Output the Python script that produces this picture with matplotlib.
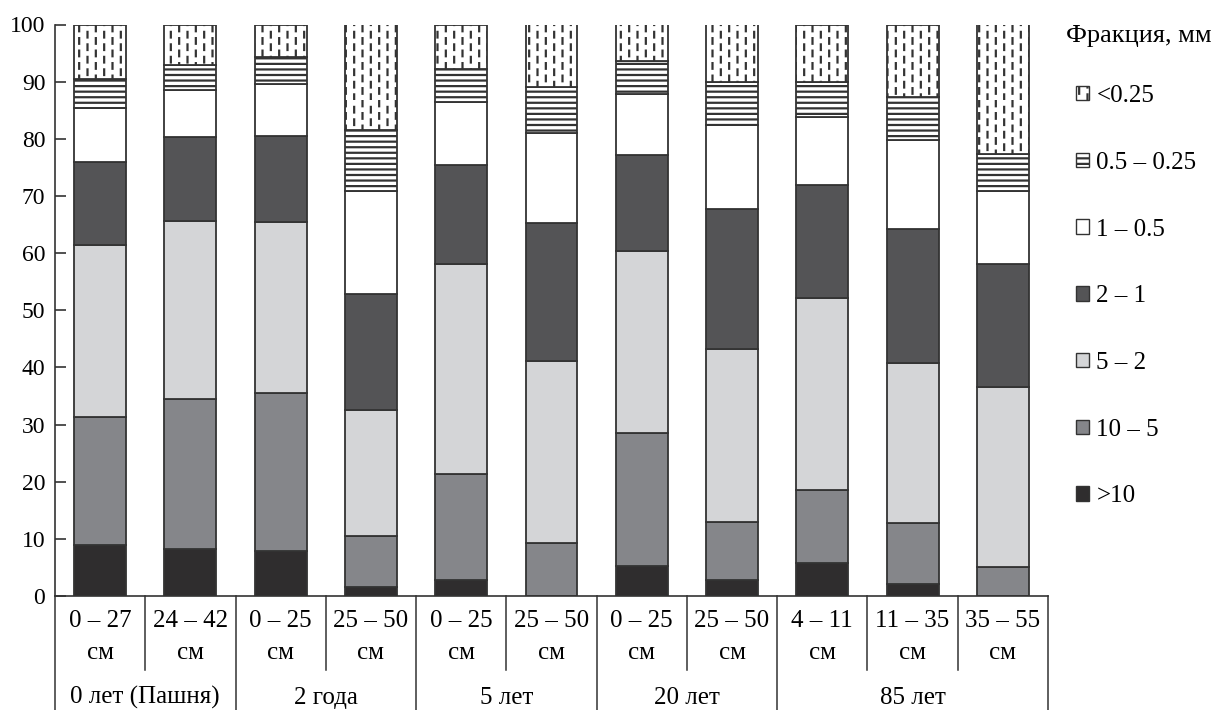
import numpy as np
import matplotlib
matplotlib.use('Agg')
import matplotlib.pyplot as plt
import matplotlib.hatch as mhatch
import matplotlib.transforms as mtransforms
from matplotlib.path import Path
from matplotlib.patches import Patch

plt.rcParams['font.family'] = ['Liberation Serif', 'DejaVu Serif']
plt.rcParams['hatch.linewidth'] = 1.6

# sampling depth per column, age group under it
depths = ['0 – 27', '24 – 42', '0 – 25', '25 – 50', '0 – 25', '25 – 50',
          '0 – 25', '25 – 50', '4 – 11', '11 – 35', '35 – 55']
groups = ['0 лет (Пашня)', '2 года', '5 лет', '20 лет', '85 лет']
group_sizes = [2, 2, 2, 2, 3]

# aggregate fractions, mm (bottom to top), values in %
fractions = ['>10', '10 – 5', '5 – 2', '2 – 1', '1 – 0.5', '0.5 – 0.25', '<0.25']
f_gt10 = [8.9, 8.2, 7.9, 1.5, 2.8, 0.0, 5.3, 2.8, 5.7, 2.1, 0.0]
f_10_5 = [22.5, 26.3, 27.6, 9.0, 18.5, 9.3, 23.2, 10.2, 12.8, 10.6, 5.0]
f_5_2 = [30.0, 31.2, 29.9, 22.0, 36.8, 31.9, 31.9, 30.2, 33.6, 28.1, 31.5]
f_2_1 = [14.5, 14.6, 15.1, 20.3, 17.3, 24.0, 16.8, 24.6, 19.9, 23.4, 21.6]
f_1_05 = [9.5, 8.2, 9.1, 18.1, 11.0, 15.9, 10.6, 14.7, 11.9, 15.6, 12.8]
f_05_025 = [5.0, 4.4, 4.8, 10.6, 5.8, 8.0, 5.8, 7.4, 6.0, 7.6, 6.4]
f_lt025 = [9.6, 7.1, 5.6, 18.5, 7.8, 10.9, 6.4, 10.1, 10.1, 12.6, 22.7]

series = [f_gt10, f_10_5, f_5_2, f_2_1, f_1_05, f_05_025, f_lt025]
colors = ['#2f2d2e', '#85868a', '#d4d5d7', '#545456', 'white', 'white', 'white']
hatches = [None, None, None, None, None, '---', '|']
edge = '#333333'


# short staggered vertical dashes for the finest fraction
class DashHatch(mhatch.HatchPatternBase):
    def __init__(self, hatch, density):
        n = hatch.count('|')
        self.ncols = int(2 * density * n)
        self.nrows = int(1.35 * density * n)
        self.num_vertices = 2 * self.ncols * self.nrows

    def set_vertices_and_codes(self, vertices, codes):
        k = 0
        for i in range(self.ncols):
            x = (i + 0.5) / self.ncols
            shift = 0.5 * (i % 2)
            for j in range(self.nrows):
                y0 = (j + shift) / self.nrows
                vertices[k] = (x, y0)
                vertices[k + 1] = (x, y0 + 0.45 / self.nrows)
                codes[k] = Path.MOVETO
                codes[k + 1] = Path.LINETO
                k += 2


mhatch._hatch_types[mhatch._hatch_types.index(mhatch.VerticalHatch)] = DashHatch

fig = plt.figure(figsize=(12.25, 7.1), dpi=100)
ax = fig.add_axes([55 / 1225, 1 - 596 / 710, (1048 - 55) / 1225, (596 - 24.5) / 710])

x = np.arange(len(depths))
bottom = np.zeros(len(depths))
for vals, c, h in zip(series, colors, hatches):
    vals = np.array(vals)
    ax.bar(x, vals, width=0.575, bottom=bottom, color=c, edgecolor=edge,
           linewidth=1.3, hatch=h, zorder=2)
    bottom += vals

ax.set_xlim(-0.5, len(depths) - 0.5)
ax.set_ylim(0, 100)
ax.set_yticks(range(0, 101, 10))
ax.set_xticks([])
ax.tick_params(axis='y', direction='in', length=8, width=1.2, labelsize=17,
               pad=7, color=edge)
for s in ['top', 'right']:
    ax.spines[s].set_visible(False)
for s in ['left', 'bottom']:
    ax.spines[s].set_color(edge)
    ax.spines[s].set_linewidth(1.2)

# table-like labels under the axis
trans = mtransforms.blended_transform_factory(ax.transData, ax.transAxes)
bounds = np.concatenate([[0], np.cumsum(group_sizes)]) - 0.5
for xi, d in zip(x, depths):
    ax.text(xi, -0.044, d, transform=trans, ha='center', va='center', fontsize=18)
    ax.text(xi, -0.1, 'см', transform=trans, ha='center', va='center', fontsize=18)
for xb in np.arange(0.5, len(depths) - 1):
    if xb not in bounds:
        ax.plot([xb, xb], [0, -0.13], transform=trans, color=edge, lw=1.1, clip_on=False)
for xb in bounds:
    ax.plot([xb, xb], [0, -0.2], transform=trans, color=edge, lw=1.1, clip_on=False)
for g, a, b in zip(groups, bounds[:-1], bounds[1:]):
    ax.text((a + b) / 2, -0.178, g, transform=trans, ha='center', va='center', fontsize=18)

fig.text(1066 / 1225, 1 - 36 / 710, 'Фракция, мм', ha='left', va='center', fontsize=19)
handles = [Patch(facecolor=c, edgecolor=edge, hatch=h, linewidth=1.0)
           for c, h in zip(colors, hatches)][::-1]
fig.legend(handles, fractions[::-1], loc='upper left',
           bbox_to_anchor=(1076 / 1225, 1 - 85 / 710), frameon=False,
           fontsize=18, handlelength=0.52, handleheight=0.52,
           handletextpad=0.3, labelspacing=1.79, borderpad=0, borderaxespad=0)

fig.savefig('out.png', dpi=100)
